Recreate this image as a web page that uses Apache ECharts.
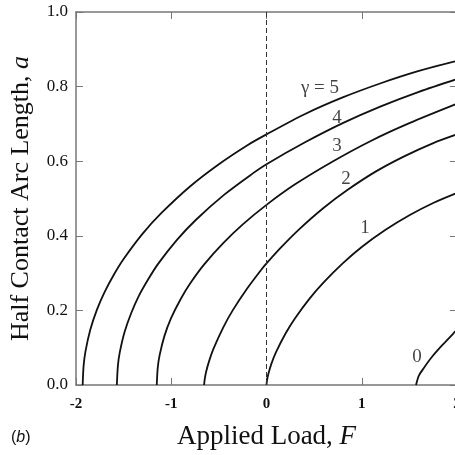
<!DOCTYPE html>
<html>
<head>
<meta charset="utf-8">
<script src="https://cdn.jsdelivr.net/npm/echarts@6/dist/echarts.min.js"></script>
<style>
  html, body { margin: 0; padding: 0; background: #fff; }
  #chart { width: 455px; height: 455px; }
</style>
</head>
<body>
<div id="chart"></div>
<script>
// curves: [F, a]
var gamma5 = [[-1.93,0],[-1.92,0.052],[-1.9,0.091],[-1.85,0.148],[-1.78,0.202],[-1.7,0.249],[-1.6,0.297],[-1.5,0.338],[-1.3,0.406],[-1.1,0.462],[-0.8,0.533],[-0.5,0.592],[-0.2,0.643],[0,0.672],[0.4,0.726],[0.8,0.771],[1.2,0.809],[1.6,0.842],[2.0,0.869]];
var gamma4 = [[-1.571,0],[-1.56,0.052],[-1.54,0.088],[-1.49,0.142],[-1.42,0.193],[-1.34,0.239],[-1.24,0.284],[-1.14,0.324],[-0.94,0.389],[-0.74,0.443],[-0.44,0.511],[-0.14,0.568],[0,0.592],[0.4,0.65],[0.8,0.702],[1.2,0.747],[1.6,0.786],[2.0,0.82]];
var gamma3 = [[-1.152,0],[-1.142,0.046],[-1.122,0.08],[-1.072,0.131],[-1.002,0.179],[-0.902,0.23],[-0.802,0.272],[-0.652,0.324],[-0.452,0.381],[-0.252,0.43],[0,0.483],[0.3,0.538],[0.7,0.6],[1.1,0.655],[1.5,0.702],[2.0,0.754]];
var gamma2 = [[-0.655,0],[-0.65,0.013],[-0.635,0.034],[-0.605,0.062],[-0.555,0.098],[-0.455,0.154],[-0.355,0.2],[-0.205,0.258],[-0.055,0.309],[0,0.326],[0.145,0.367],[0.345,0.418],[0.595,0.474],[0.845,0.522],[1.145,0.572],[1.445,0.613],[1.745,0.648],[2.0,0.672]];
var gamma1 = [[0,0],[0.005,0.012],[0.02,0.03],[0.05,0.056],[0.1,0.088],[0.2,0.138],[0.3,0.179],[0.45,0.231],[0.6,0.275],[0.8,0.326],[1.0,0.37],[1.25,0.416],[1.5,0.455],[1.75,0.488],[2.0,0.515]];
var gamma0 = [[1.57,0],[1.6,0.025],[1.65,0.045],[1.736,0.075],[1.85,0.108],[1.98,0.143],[2.0,0.148]];

// curve labels: [F, a, text]
var curveLabels = [[0.562,0.796,'γ = 5'],[0.74,0.716,'4'],[0.74,0.641,'3'],[0.835,0.552,'2'],[1.034,0.421,'1'],[1.58,0.075,'0']];

var serif = '"Liberation Serif", "Times New Roman", serif';
var axisGray = '#777';

function curve(data) {
  return {
    type: 'line',
    data: data,
    smooth: 0.3,
    showSymbol: false,
    lineStyle: { color: '#111', width: 1.8 },
    z: 3
  };
}

var chart = echarts.init(document.getElementById('chart'));
chart.setOption({
  animation: false,
  grid: { left: 76, top: 12, width: 381, height: 373, containLabel: false, outerBoundsMode: 'none' },
  xAxis: [
    {
      type: 'value', min: -2, max: 2, interval: 1, position: 'bottom',
      name: 'Applied Load, {i|F}', nameLocation: 'middle', nameGap: 38,
      nameTextStyle: {
        fontFamily: serif, fontSize: 27, color: '#111',
        rich: { i: { fontFamily: serif, fontStyle: 'italic', fontSize: 27, color: '#111' } }
      },
      axisLine: { onZero: false, lineStyle: { color: axisGray, width: 1.5 } },
      axisTick: { inside: true, length: 7, lineStyle: { color: axisGray } },
      axisLabel: { fontFamily: serif, fontSize: 15, fontWeight: 'bold', color: '#111', margin: 12 },
      splitLine: { show: false }
    },
    {
      type: 'value', min: -2, max: 2, interval: 1, position: 'top',
      axisLine: { onZero: false, lineStyle: { color: axisGray, width: 1.5 } },
      axisTick: { inside: true, length: 7, lineStyle: { color: axisGray } },
      axisLabel: { show: false },
      splitLine: { show: false }
    }
  ],
  yAxis: [
    {
      type: 'value', min: 0, max: 1, interval: 0.2, position: 'left',
      name: 'Half Contact Arc Length, {i|a}', nameLocation: 'middle', nameGap: 42,
      nameTextStyle: {
        fontFamily: serif, fontSize: 26, color: '#111',
        rich: { i: { fontFamily: serif, fontStyle: 'italic', fontSize: 26, color: '#111' } }
      },
      axisLine: { onZero: false, lineStyle: { color: axisGray, width: 1.5 } },
      axisTick: { inside: true, length: 7, lineStyle: { color: axisGray } },
      axisLabel: {
        fontFamily: serif, fontSize: 17, color: '#111', margin: 8,
        formatter: function (v) { return v.toFixed(1); }
      },
      splitLine: { show: false }
    },
    {
      type: 'value', min: 0, max: 1, interval: 0.2, position: 'right',
      axisLine: { onZero: false, lineStyle: { color: axisGray, width: 1.5 } },
      axisTick: { inside: true, length: 7, lineStyle: { color: axisGray } },
      axisLabel: { show: false },
      splitLine: { show: false }
    }
  ],
  series: [
    curve(gamma5), curve(gamma4), curve(gamma3), curve(gamma2), curve(gamma1), curve(gamma0),
    {
      type: 'scatter',
      data: curveLabels,
      symbolSize: 0,
      label: {
        show: true, position: 'inside',
        formatter: function (p) { return p.data[2]; },
        fontFamily: serif, fontSize: 19, color: '#111'
      },
      markLine: {
        silent: true, symbol: 'none', label: { show: false },
        lineStyle: { color: '#333', type: [5, 3], width: 1 },
        data: [{ xAxis: 0 }]
      },
      z: 4
    }
  ],
  graphic: [
    {
      type: 'text', left: 11, top: 430,
      style: {
        text: '({i|b})', fill: '#111',
        font: '16px "Liberation Sans", Arial, sans-serif',
        rich: { i: { fontStyle: 'italic', fontSize: 16, fontFamily: '"Liberation Sans", Arial, sans-serif', fill: '#111' } }
      }
    }
  ]
});
</script>
</body>
</html>
